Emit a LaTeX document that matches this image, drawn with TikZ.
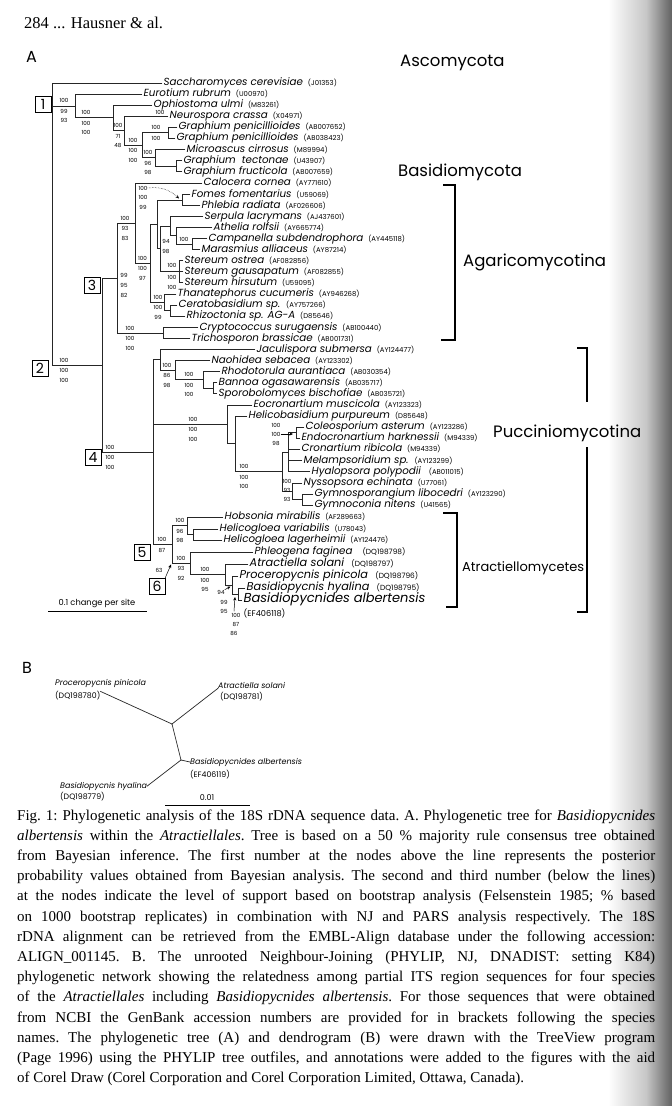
\documentclass[tikz,border=0pt]{standalone}
\usepackage{fontspec}
\setmainfont{Liberation Serif}
\newfontfamily\gf{Poppins}
\usetikzlibrary{arrows.meta,calc}
\newcommand\acc[1]{{\upshape\fontsize{6.9}{7}\selectfont\ (#1)}}
\newcommand\accb[1]{{\upshape\fontsize{7.4}{8}\selectfont\ \ (#1)}}
\newcommand\leaf[4]{\node[lf] (#1) at (#2,#3) {#4};}
\newcommand\hb[2]{\draw[br] (#1 |- #2) -- (#2);}
\newcommand\vb[3]{\draw[br] (#1 |- #2) -- (#1 |- #3);}
\newcommand\slab[6]{\node[sp] (#1a) at (#2,#3-5) {#4};\node[sp] (#1b) at (#2,#3+5.5) {#5};\node[sp] (#1c) at (#2,#3+15) {#6};}
\tikzset{
 br/.style={line width=0.7pt,line cap=rect,black!85},
 lf/.style={anchor=west,inner sep=1.5pt,text height=0.72em,text depth=0.22em,font=\gf\itshape\fontsize{10.3}{10.5}\selectfont},
 lfb/.style={lf,font=\gf\itshape\fontsize{11.3}{12}\selectfont},
 lfc/.style={lf,font=\gf\itshape\fontsize{13}{13}\selectfont},
 sp/.style={inner sep=0pt,font=\gf\fontsize{5.6}{6}\selectfont},
 numbox/.style={draw,line width=0.6pt,minimum size=16pt,inner sep=0pt,font=\gf\fontsize{14}{14}\selectfont},
 clade/.style={anchor=west,inner sep=0pt,font=\gf\fontsize{16.5}{17}\selectfont},
 brk/.style={line width=2pt},
 arr/.style={-{Stealth[length=3.5pt,width=3pt]},line width=0.5pt},
 bsp/.style={anchor=west,inner sep=0pt,font=\gf\itshape\fontsize{8}{9}\selectfont},
 bac/.style={anchor=west,inner sep=0pt,font=\gf\fontsize{7.8}{9}\selectfont},
 captxt/.style={anchor=base west,inner sep=0pt,font=\fontsize{15}{16}\selectfont\frenchspacing},
}
\begin{document}
\begin{tikzpicture}[x=1pt,y=-1pt]
\useasboundingbox (0,0) rectangle (672,1106);
\fill[white] (0,0) rectangle (672,1106);
\shade[left color=white,right color=black!22] (608,0) rectangle (646,1106);
\shade[left color=black!22,right color=black!62] (646,0) rectangle (672,1106);

\node[anchor=west,inner sep=0pt,font=\fontsize{16.5}{18}\selectfont] (hdr) at (24,23) {284 ... Hausner \& al.};
\node[anchor=west,inner sep=0pt,font=\gf\fontsize{16}{16}\selectfont] (pA) at (26,57) {A};

% ---------------- leaves
\leaf{l1}{162}{83}{Saccharomyces cerevisiae \acc{J01353}}
\leaf{l2}{142}{94}{Eurotium rubrum \acc{U00970}}
\leaf{l3}{152}{105}{Ophiostoma ulmi \acc{M83261}}
\leaf{l4}{168}{116}{Neurospora crassa \acc{X04971}}
\leaf{l5}{177}{127}{Graphium penicillioides \acc{AB007652}}
\leaf{l6}{175}{138}{Graphium penicillioides \acc{AB038423}}
\leaf{l7}{185}{149.5}{Microascus cirrosus \acc{M89994}}
\leaf{l8}{182}{160.5}{Graphium\ \ tectonae \acc{U43907}}
\leaf{l9}{182}{171.5}{Graphium fructicola \acc{AB007659}}
\leaf{l10}{202}{183}{Calocera cornea \acc{AY771610}}
\leaf{l11}{190}{194.5}{Fomes fomentarius \acc{U59069}}
\leaf{l12}{200}{205.5}{Phlebia radiata \acc{AF026606}}
\leaf{l13}{203}{216.5}{Serpula lacrymans \acc{AJ437601}}
\leaf{l14}{212}{227.5}{Athelia rolfsii \acc{AY665774}}
\leaf{l15}{207}{238.5}{Campanella subdendrophora \acc{AY445118}}
\leaf{l16}{200}{249.5}{Marasmius alliaceus \acc{AY87214}}
\leaf{l17}{183}{260.5}{Stereum ostrea \acc{AF082856}}
\leaf{l18}{183}{271.5}{Stereum gausapatum \acc{AF082855}}
\leaf{l19}{183}{282.5}{Stereum hirsutum \acc{U59095}}
\leaf{l20}{176}{294}{Thanatephorus cucumeris \acc{AY946268}}
\leaf{l21}{177}{305}{Ceratobasidium sp. \acc{AY757266}}
\leaf{l22}{185}{316}{Rhizoctonia sp. AG-A \acc{D85646}}
\leaf{l23}{198}{327.5}{Cryptococcus surugaensis \acc{AB100440}}
\leaf{l24}{190}{338.5}{Trichosporon brassicae \acc{AB001731}}
\leaf{l25}{255}{349.5}{Jaculispora submersa \acc{AY124477}}
\leaf{l26}{210}{360.5}{Naohidea sebacea \acc{AY123302}}
\leaf{l27}{220}{371.5}{Rhodotorula aurantiaca \acc{AB030354}}
\leaf{l28}{217}{382.5}{Bannoa ogasawarensis \acc{AB035717}}
\leaf{l29}{217}{393.5}{Sporobolomyces bischofiae \acc{AB035721}}
\leaf{l30}{252}{405}{Eocronartium muscicola \acc{AY123323}}
\leaf{l31}{247}{416}{Helicobasidium purpureum \acc{D85648}}
\leaf{l32}{304}{427}{Coleosporium asterum \acc{AY123286}}
\leaf{l33}{300}{438}{Endocronartium harknessii \acc{M94339}}
\leaf{l34}{300}{449}{Cronartium ribicola \acc{M94339}}
\leaf{l35}{302}{460.5}{Melampsoridium sp. \acc{AY123299}}
\leaf{l36}{310}{471.5}{Hyalopsora polypodii\ \ \acc{AB011015}}
\leaf{l37}{302}{483}{Nyssopsora echinata \acc{U77061}}
\leaf{l38}{313}{494}{Gymnosporangium libocedri \acc{AY123290}}
\leaf{l39}{313}{505}{Gymnoconia nitens \acc{U41565}}
\leaf{l40}{223}{517}{Hobsonia mirabilis \acc{AF289663}}
\leaf{l41}{218}{529}{Helicogloea variabilis \acc{U78043}}
\leaf{l42}{222}{540}{Helicogloea lagerheimii \acc{AY124476}}
\leaf{l43}{253}{552}{Phleogena faginea\ \ \accb{DQ198798}}
\node[lfb] (l44) at (248,564) {Atractiella solani\ \accb{DQ198797}};
\node[lfb] (l45) at (238,576) {Proceropycnis pinicola\ \accb{DQ198796}};
\node[lfb] (l46) at (245,588) {Basidiopycnis hyalina\ \accb{DQ198795}};
\node[lfc] (l47) at (242,600) {Basidiopycnides albertensis};
\node[anchor=west,inner sep=1.5pt,font=\gf\fontsize{8.2}{9}\selectfont] (l47a) at (242,613) {(EF406118)};

% ---------------- internal nodes
\coordinate (R) at (52,83);
\coordinate (nGpen) at (168,132.5);
\coordinate (nGtf) at (176,166);
\coordinate (nMic) at (155,157.75);
\coordinate (nGM) at (142,145.1);
\coordinate (nN) at (124,130.6);
\coordinate (nO) at (113,117.8);
\coordinate (nE) at (75,105.9);
\coordinate (nFP) at (182,200);
\coordinate (nCM) at (192,244);
\coordinate (nACM) at (176,235.75);
\coordinate (nSACM) at (170,226.1);
\coordinate (nS) at (179,271.5);
\coordinate (nPol) at (160,248.8);
\coordinate (nFPP) at (157,224.4);
\coordinate (nCR) at (170,310.5);
\coordinate (nCanth) at (164,302.25);
\coordinate (nY) at (150,263.3);
\coordinate (nAgar) at (135,223.15);
\coordinate (nCT) at (163,333);
\coordinate (n3) at (117,278.1);
\coordinate (nM4) at (213,388);
\coordinate (nM3) at (203,379.75);
\coordinate (nM2) at (175,370.1);
\coordinate (nM1) at (160,359.8);
\coordinate (nc1) at (296,432.5);
\coordinate (nPU1) at (288,452);
\coordinate (ng1) at (302,499.5);
\coordinate (nPU2) at (292,491.25);
\coordinate (nPU) at (282,471.6);
\coordinate (nP2) at (235,443.8);
\coordinate (nP) at (227,424.4);
\coordinate (nHv) at (193,534.5);
\coordinate (nH) at (187,525.75);
\coordinate (nAT3) at (238,594);
\coordinate (nAT2) at (232,585);
\coordinate (nAT) at (225,574.5);
\coordinate (n6) at (190,563.25);
\coordinate (n5) at (172,544.6);
\coordinate (n4) at (153,452.2);
\coordinate (nB) at (102,365.15);

% ---------------- verticals
\vb{nGpen}{l5.west}{l6.west}
\vb{nGtf}{l8.west}{l9.west}
\vb{nMic}{l7.west}{nGtf}
\vb{nGM}{nGpen}{nMic}
\vb{nN}{l4.west}{nGM}
\vb{nO}{l3.west}{nN}
\vb{nE}{l2.west}{nO}
\vb{R}{l1.west}{nB}
\vb{nFP}{l11.west}{l12.west}
\vb{nCM}{l15.west}{l16.west}
\vb{nACM}{l14.west}{nCM}
\vb{nSACM}{l13.west}{nACM}
\vb{nS}{l17.west}{l19.west}
\vb{nPol}{nSACM}{nS}
\vb{nFPP}{nFP}{nPol}
\vb{nCR}{l21.west}{l22.west}
\vb{nCanth}{l20.west}{nCR}
\vb{nY}{nFPP}{nCanth}
\vb{nAgar}{l10.west}{nY}
\vb{nCT}{l23.west}{l24.west}
\vb{n3}{nAgar}{nCT}
\vb{nM4}{l28.west}{l29.west}
\vb{nM3}{l27.west}{nM4}
\vb{nM2}{l26.west}{nM3}
\vb{nM1}{l25.west}{nM2}
\vb{nc1}{l32.west}{l33.west}
\vb{nPU1}{nc1}{l36.west}
\vb{ng1}{l38.west}{l39.west}
\vb{nPU2}{l37.west}{ng1}
\vb{nPU}{nPU1}{nPU2}
\vb{nP2}{l31.west}{nPU}
\vb{nP}{l30.west}{nP2}
\vb{nHv}{l41.west}{l42.west}
\vb{nH}{l40.west}{nHv}
\vb{nAT3}{l46.west}{l47.west}
\vb{nAT2}{l45.west}{nAT3}
\vb{nAT}{l44.west}{nAT2}
\vb{n6}{l43.west}{nAT}
\vb{n5}{nH}{n6}
\vb{n4}{nM1}{n5}
\vb{nB}{n3}{n4}

% ---------------- horizontals
\hb{R}{l1.west}\hb{R}{nE}\hb{R}{nB}
\hb{nE}{l2.west}\hb{nE}{nO}
\hb{nO}{l3.west}\hb{nO}{nN}
\hb{nN}{l4.west}\hb{nN}{nGM}
\hb{nGM}{nGpen}\hb{nGM}{nMic}
\hb{nGpen}{l5.west}\hb{nGpen}{l6.west}
\hb{nMic}{l7.west}\hb{nMic}{nGtf}
\hb{nGtf}{l8.west}\hb{nGtf}{l9.west}
\hb{nB}{n3}\hb{nB}{n4}
\hb{n3}{nAgar}\hb{n3}{nCT}
\hb{nAgar}{l10.west}\hb{nAgar}{nY}
\hb{nY}{nFPP}\hb{nY}{nCanth}
\hb{nFPP}{nFP}\hb{nFPP}{nPol}
\hb{nFP}{l11.west}\hb{nFP}{l12.west}
\hb{nPol}{nSACM}\hb{nPol}{nS}
\hb{nSACM}{l13.west}\hb{nSACM}{nACM}
\hb{nACM}{l14.west}\hb{nACM}{nCM}
\hb{nCM}{l15.west}\hb{nCM}{l16.west}
\hb{nS}{l17.west}\hb{nS}{l18.west}\hb{nS}{l19.west}
\hb{nCanth}{l20.west}\hb{nCanth}{nCR}
\hb{nCR}{l21.west}\hb{nCR}{l22.west}
\hb{nCT}{l23.west}\hb{nCT}{l24.west}
\hb{n4}{nM1}\hb{n4}{nP}\hb{n4}{n5}
\hb{nM1}{l25.west}\hb{nM1}{nM2}
\hb{nM2}{l26.west}\hb{nM2}{nM3}
\hb{nM3}{l27.west}\hb{nM3}{nM4}
\hb{nM4}{l28.west}\hb{nM4}{l29.west}
\hb{nP}{l30.west}\hb{nP}{nP2}
\hb{nP2}{l31.west}\hb{nP2}{nPU}
\hb{nPU}{nPU1}\hb{nPU}{nPU2}
\hb{nPU1}{nc1}\hb{nPU1}{l34.west}\hb{nPU1}{l35.west}\hb{nPU1}{l36.west}
\hb{nc1}{l32.west}\hb{nc1}{l33.west}
\hb{nPU2}{l37.west}\hb{nPU2}{ng1}
\hb{ng1}{l38.west}\hb{ng1}{l39.west}
\hb{n5}{nH}\hb{n5}{n6}
\hb{nH}{l40.west}\hb{nH}{nHv}
\hb{nHv}{l41.west}\hb{nHv}{l42.west}
\hb{n6}{l43.west}\hb{n6}{nAT}
\hb{nAT}{l44.west}\hb{nAT}{nAT2}
\hb{nAT2}{l45.west}\hb{nAT2}{nAT3}
\hb{nAT3}{l46.west}\hb{nAT3}{l47.west}

% ---------------- support values
\slab{sE}{64}{105.9}{100}{99}{93}
\slab{sO}{86}{117.8}{100}{100}{100}
\slab{sN}{118}{130.6}{100}{71}{48}
\slab{sGM}{133}{145.1}{100}{100}{100}
\node[sp] (sGpa) at (156,127.5) {100};
\node[sp] (sGpb) at (156,138) {100};
\node[sp] (sNe) at (160,112) {100};
\slab{sMi}{148}{157.75}{100}{96}{98}
\slab{sB}{64}{365.15}{100}{100}{100}
\slab{s3}{124}{280}{99}{95}{82}
\slab{sAg}{125}{223.15}{100}{93}{83}
\slab{sY}{142.5}{263.3}{100}{100}{97}
\node[sp] (sFPa) at (143,188) {100};
\node[sp] (sFPb) at (143,197.5) {100};
\node[sp] (sFPc) at (143,207) {99};
\node[sp] (sCMa) at (184,239.5) {100};
\node[sp] (sCMb) at (166,241) {94};
\node[sp] (sCMc) at (166,251) {98};
\node[sp] (sSa) at (172,265.5) {100};
\node[sp] (sSb) at (172,277) {100};
\node[sp] (sSc) at (172,287) {100};
\slab{sCa}{158}{302.25}{100}{100}{99}
\slab{sCT}{130}{333}{100}{100}{100}
\slab{sM2}{167}{370.1}{100}{86}{98}
\slab{sM3}{189}{379.75}{100}{100}{100}
\slab{sP}{193}{424.4}{100}{100}{100}
\slab{s4}{110}{452.2}{100}{100}{100}
\node[sp] (sc1a) at (276,425) {100};
\node[sp] (sc1b) at (276,434) {100};
\node[sp] (sc1c) at (276,443) {98};
\slab{sPU}{244}{471.6}{100}{100}{100}
\node[sp] (sPUa) at (287,481) {100};
\node[sp] (sPUb) at (287,490) {93};
\node[sp] (sPUc) at (287,499) {93};
\slab{sH}{180}{525.75}{100}{96}{98}
\node[sp] (s5a) at (162,539.6) {100};
\node[sp] (s5b) at (162,550.1) {87};
\slab{s6}{181}{563.25}{100}{93}{92}
\node[sp] (s63) at (159,570) {63};
\slab{sAT}{205}{574.5}{100}{100}{95}
\node[sp] (sA2a) at (221,592) {94};
\node[sp] (sA2b) at (224,602) {99};
\node[sp] (sA2c) at (224,611) {95};
\node[sp] (sA3a) at (236,615) {100};
\node[sp] (sA3b) at (236,624) {87};
\node[sp] (sA3c) at (234,633) {86};

% arrows
\coordinate (tFP) at (179,198.5);
\coordinate (tc1) at (293,434);
\coordinate (t6) at (171,564.5);
\coordinate (tA2) at (230.5,586.5);
\coordinate (tA3) at (235,597);
\draw[arr,densely dotted] (sFPa.east) to[bend left=25] (tFP);
\draw[arr] (sc1b.east) -- (tc1);
\draw[arr] (sA2a.north east) -- (tA2);
\draw[arr] (sA3a.north) ++(-2,-1.5) -- (tA3);

% numbered boxes
\node[numbox] (b1) at (43,104) {1};
\node[numbox] (b2) at (40,368) {2};
\node[numbox] (b3) at (92,285) {3};
\node[numbox] (b4) at (93,457) {4};
\node[numbox] (b5) at (142,552) {5};
\node[numbox] (b6) at (157,586) {6};
\draw[arr] (b6.north east) -- (t6);

% clade labels and brackets
\node[clade] (cAsc) at (400,63) {Ascomycota};
\node[clade] (cBas) at (398,172) {Basidiomycota};
\node[clade] (cAga) at (463,262) {Agaricomycotina};
\node[clade] (cPuc) at (493,433) {Pucciniomycotina};
\node[clade,font=\gf\fontsize{13}{14}\selectfont] (cAtr) at (462,568) {Atractiellomycetes};
\draw[brk] (443,185) -- (455,185) -- (455,340) -- (441,340);
\draw[brk] (577,348) -- (587,348) -- (587,402);
\draw[brk] (587,447) -- (587,612) -- (577,612);
\draw[brk] (443,513) -- (457,513) -- (457,607) -- (446,607);

% scale bar A
\node[anchor=south,inner sep=0pt,font=\gf\fontsize{8.3}{9}\selectfont] (scA) at (97,608) {0.1 change per site};
\draw[line width=0.7pt] (48,611) -- (147,611);

% ---------------- panel B
\node[anchor=west,inner sep=0pt,font=\gf\fontsize{16}{16}\selectfont] (pB) at (22,668) {B};
\node[bsp] (Bp) at (55,683) {Proceropycnis pinicola};
\node[bac] (Bpa) at (55,696) {(DQ198780)};
\node[bsp] (Ba) at (218,685) {Atractiella solani};
\node[bac] (Baa) at (220,697) {(DQ198781)};
\node[bsp] (Bb) at (190,762) {Basidiopycnides albertensis};
\node[bac] (Bba) at (190,775) {(EF406119)};
\node[bsp] (Bh) at (60,786) {Basidiopycnis hyalina};
\node[bac] (Bha) at (60,797) {(DQ198779)};
\coordinate (J1) at (172,724);
\coordinate (J2) at (181,760);
\draw[br] (J1) -- (Bpa.north east);
\draw[br] (J1) -- (Ba.south west);
\draw[br] (J1) -- (J2);
\draw[br] (J2) -- (Bb.west);
\draw[br] (J2) -- (Bh.east);
\node[anchor=base,inner sep=0pt,font=\gf\fontsize{8}{9}\selectfont] (s01) at (207,800) {0.01};
\draw[line width=0.7pt] (165,805) -- (250,805);

% ---------------- caption
\node[captxt] (c1) at (17,820) {\makebox[638pt][s]{Fig. 1: Phylogenetic analysis of the 18S rDNA sequence data. A. Phylogenetic tree for \textit{Basidiopycnides}}};
\node[captxt] (c2) at (17,840.2) {\makebox[638pt][s]{\textit{albertensis} within the \textit{Atractiellales}. Tree is based on a 50 \% majority rule consensus tree obtained}};
\node[captxt] (c3) at (17,860.4) {\makebox[638pt][s]{from Bayesian inference. The first number at the nodes above the line represents the posterior}};
\node[captxt] (c4) at (17,880.6) {\makebox[638pt][s]{probability values obtained from Bayesian analysis. The second and third number (below the lines)}};
\node[captxt] (c5) at (17,900.8) {\makebox[638pt][s]{at the nodes indicate the level of support based on bootstrap analysis (Felsenstein 1985; \% based}};
\node[captxt] (c6) at (17,921) {\makebox[638pt][s]{on 1000 bootstrap replicates) in combination with NJ and PARS analysis respectively. The 18S}};
\node[captxt] (c7) at (17,941.2) {\makebox[638pt][s]{rDNA alignment can be retrieved from the EMBL-Align database under the following accession:}};
\node[captxt] (c8) at (17,961.4) {\makebox[638pt][s]{ALIGN\_001145. B. The unrooted Neighbour-Joining (PHYLIP, NJ, DNADIST: setting K84)}};
\node[captxt] (c9) at (17,981.6) {\makebox[638pt][s]{phylogenetic network showing the relatedness among partial ITS region sequences for four species}};
\node[captxt] (c10) at (17,1001.8) {\makebox[638pt][s]{of the \textit{Atractiellales} including \textit{Basidiopycnides albertensis}. For those sequences that were obtained}};
\node[captxt] (c11) at (17,1022) {\makebox[638pt][s]{from NCBI the GenBank accession numbers are provided for in brackets following the species}};
\node[captxt] (c12) at (17,1042.2) {\makebox[638pt][s]{names. The phylogenetic tree (A) and dendrogram (B) were drawn with the TreeView program}};
\node[captxt] (c13) at (17,1062.4) {\makebox[638pt][s]{(Page 1996) using the PHYLIP tree outfiles, and annotations were added to the figures with the aid}};
\node[captxt] (c14) at (17,1082.6) {of Corel Draw (Corel Corporation and Corel Corporation Limited, Ottawa, Canada).};
\end{tikzpicture}
\end{document}
